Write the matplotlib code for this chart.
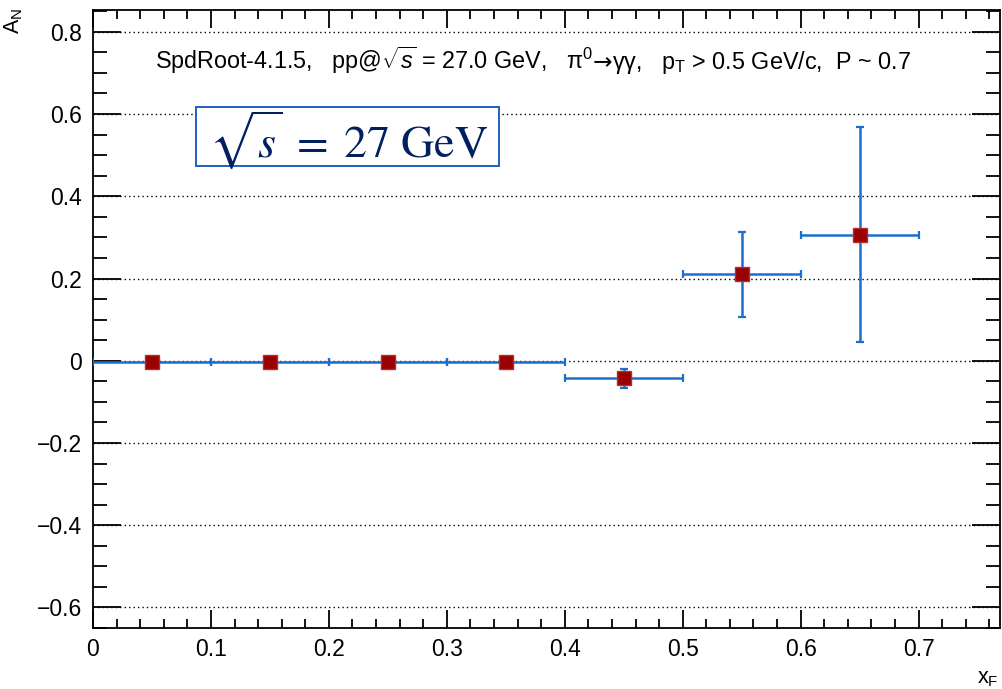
import matplotlib
matplotlib.use("Agg")
import matplotlib.pyplot as plt
from matplotlib.patches import Rectangle
from matplotlib.ticker import MultipleLocator, FuncFormatter

plt.rcParams['font.family'] = ['Liberation Sans', 'DejaVu Sans']
plt.rcParams['mathtext.fontset'] = 'custom'
plt.rcParams['mathtext.rm'] = 'Liberation Sans'
plt.rcParams['mathtext.it'] = 'Liberation Sans:italic'
plt.rcParams['mathtext.sf'] = 'Liberation Sans'

# data
x_centers = [0.05, 0.15, 0.25, 0.35, 0.45, 0.55, 0.65]
x_err = [0.05, 0.05, 0.05, 0.05, 0.05, 0.05, 0.05]
an_values = [-0.003, -0.003, -0.003, -0.003, -0.043, 0.210, 0.307]
an_err = [0.004, 0.004, 0.004, 0.004, 0.024, 0.103, 0.262]
grid_levels = [-0.6, -0.4, -0.2, 0.0, 0.2, 0.4, 0.6, 0.8]

fig = plt.figure(figsize=(10.02, 6.89), dpi=100)
ax = fig.add_axes([0.0928, 0.0885, 0.9052, 0.897])

ax.set_xlim(0, 0.769)
ax.set_ylim(-0.65, 0.853)

for yv in grid_levels:
    ax.axhline(yv, color='black', linestyle=(0, (1, 2.2)), linewidth=1.0, zorder=1)

ax.errorbar(x_centers, an_values, xerr=x_err, yerr=an_err, fmt='s',
            color='#990000', markeredgecolor='#b03030', markersize=9.5,
            ecolor='#1a6fd0', elinewidth=1.8, capsize=3, capthick=1.6, zorder=3)

ax.xaxis.set_major_locator(MultipleLocator(0.1))
ax.xaxis.set_minor_locator(MultipleLocator(0.02))
ax.yaxis.set_major_locator(MultipleLocator(0.2))
ax.yaxis.set_minor_locator(MultipleLocator(0.05))

def fmt(v, pos):
    if abs(v) < 1e-9:
        return '0'
    return ('%.1f' % v).replace('-', '\u2212')

ax.xaxis.set_major_formatter(FuncFormatter(fmt))
ax.yaxis.set_major_formatter(FuncFormatter(fmt))

ax.tick_params(axis='both', which='both', direction='in', top=True, right=True,
               width=1.3, colors='black', labelsize=16.5)
ax.tick_params(axis='x', which='major', length=13, pad=7)
ax.tick_params(axis='x', which='minor', length=6.5)
ax.tick_params(axis='y', which='major', length=20, pad=8)
ax.tick_params(axis='y', which='minor', length=10)
for s in ax.spines.values():
    s.set_linewidth(1.3)

fig.text(0.002, 0.988, r'A$_\mathregular{N}$', rotation=90, fontsize=15.5,
         ha='left', va='top')
fig.text(0.997, 0.0, r'x$_\mathregular{F}$', fontsize=15.5, ha='right', va='bottom')

# header annotation, assembled from pieces so the arrow can use DejaVu Sans
header_parts = [
    ('SpdRoot-4.1.5,   pp@$\\sqrt{s}$ = 27.0 GeV,   \u03c0$^\\mathregular{0}$', ['Liberation Sans']),
    ('\u2192', ['DejaVu Sans']),
    ('\u03b3\u03b3,   p$_\\mathregular{T}$ > 0.5 GeV/c,  P ~ 0.7', ['Liberation Sans']),
]
header_center_x = 0.532
header_y = 0.912
renderer = fig.canvas.get_renderer()
texts = []
widths = []
for s, fam in header_parts:
    t = fig.text(0, header_y, s, fontsize=16.8, family=fam, ha='left', va='baseline')
    texts.append(t)
    widths.append(t.get_window_extent(renderer).width / fig.bbox.width)
total = sum(widths)
xpos = header_center_x - total / 2
for t, w in zip(texts, widths):
    t.set_x(xpos)
    xpos += w
for t in texts:
    t.set_y(0.900)

# highlighted energy box
fig.patches.append(Rectangle((0.1956, 0.7591), 0.3024, 0.0856, transform=fig.transFigure,
                             facecolor='white', edgecolor='#1f5fbf', linewidth=1.4,
                             zorder=5))
fig.text(0.348, 0.7707, r'$\sqrt{s}\;=\;27\ \mathrm{GeV}$', fontsize=33,
         ha='center', va='baseline', color='#002060', math_fontfamily='stix',
         zorder=6)

fig.savefig('out.png', dpi=100)
